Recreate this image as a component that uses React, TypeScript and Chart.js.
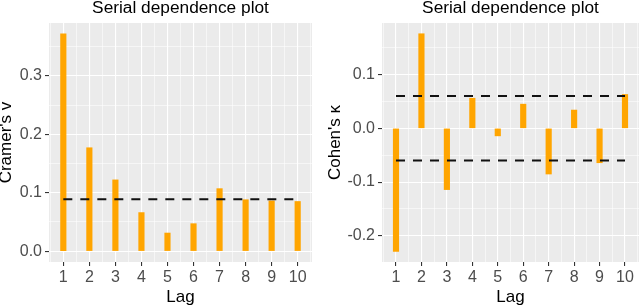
import React, { useEffect, useRef } from "react";
import { Chart, registerables } from "chart.js";

Chart.register(...registerables);

const lags = [1, 2, 3, 4, 5, 6, 7, 8, 9, 10];
const cramerV = [0.372, 0.177, 0.122, 0.066, 0.031, 0.047, 0.107, 0.088, 0.086, 0.085];
const cohenKappa = [-0.229, 0.176, -0.114, 0.056, -0.014, 0.045, -0.085, 0.034, -0.064, 0.063];
const cramerThreshold = [0.0887];
const kappaThresholds = [0.06, -0.06];
const xMajorTicks = [1, 2, 3, 4, 5, 6, 7, 8, 9, 10];
const leftYMajor = [0, 0.1, 0.2, 0.3];
const rightYMajor = [-0.2, -0.1, 0, 0.1];
const titleText = "Serial dependence plot";
const xTitle = "Lag";
const leftYTitle = "Cramer's v";
const rightYTitle = "Cohen's κ";

const FONT = "'Liberation Sans', Arial, sans-serif";

function minorsBetween(majors: number[], step: number, min: number, max: number) {
  const out: number[] = [];
  const first = majors[0] - step / 2;
  for (let v = first; v <= max + 1e-9; v += step) {
    if (v >= min - 1e-9) out.push(Number(v.toFixed(4)));
  }
  return out;
}

function isMajor(v: number, majors: number[]) {
  return majors.some((m) => Math.abs(m - v) < 1e-6);
}

const bgPlugin = {
  id: "panelBg",
  beforeDraw(chart: any) {
    const { ctx, chartArea } = chart;
    ctx.save();
    ctx.fillStyle = "#EBEBEB";
    ctx.fillRect(chartArea.left, chartArea.top, chartArea.right - chartArea.left, chartArea.bottom - chartArea.top);
    ctx.restore();
  },
};

function makeConfig(
  values: number[],
  thresholds: number[],
  yMajors: number[],
  yMin: number,
  yMax: number,
  yTitle: string,
  yAxisWidth: number,
  padRight: number,
  yTitlePad: number
) {
  const xMin = 0.45;
  const xMax = 10.55;
  const xTicks = [...xMajorTicks, ...xMajorTicks.map((v) => v - 0.5), 10.5].sort((a, b) => a - b);
  const yStep = yMajors[1] - yMajors[0];
  const yTicks = [...yMajors, ...minorsBetween(yMajors, yStep, yMin, yMax)].sort((a, b) => a - b);

  const datasets: any[] = [
    {
      type: "bar",
      data: lags.map((l, i) => ({ x: l, y: values[i] })),
      backgroundColor: "#FFA500",
      borderWidth: 0,
      barThickness: 5.5,
      order: 2,
    },
  ];
  thresholds.forEach((t) => {
    datasets.push({
      type: "line",
      data: [
        { x: lags[0], y: t },
        { x: lags[lags.length - 1], y: t },
      ],
      borderColor: "#111111",
      borderWidth: 2,
      borderDash: [9, 8],
      pointRadius: 0,
      fill: false,
      order: 1,
    });
  });

  return {
    type: "bar",
    data: { datasets },
    plugins: [bgPlugin],
    options: {
      animation: false,
      responsive: false,
      maintainAspectRatio: false,
      layout: { padding: { left: 0, right: padRight, top: 0, bottom: 0 } },
      plugins: {
        legend: { display: false },
        tooltip: { enabled: false },
        title: {
          display: true,
          text: titleText,
          fullSize: false,
          color: "#000000",
          font: { family: FONT, size: 17.3, weight: "normal", lineHeight: 1 },
          padding: { top: 0, bottom: 5.7 },
        },
      },
      scales: {
        x: {
          type: "linear",
          min: xMin,
          max: xMax,
          offset: false,
          bounds: "data",
          afterBuildTicks: (scale: any) => {
            scale.ticks = xTicks.map((v) => ({ value: v }));
          },
          afterFit: (scale: any) => {
            scale.height = 44;
          },
          border: { display: false },
          grid: {
            offset: false,
            color: "#FFFFFF",
            lineWidth: (ctx: any) => (ctx.tick && isMajor(ctx.tick.value, xMajorTicks) ? 1.1 : 0.55),
            tickColor: (ctx: any) => (ctx.tick && isMajor(ctx.tick.value, xMajorTicks) ? "#333333" : "rgba(0,0,0,0)"),
            tickWidth: 1.1,
            tickLength: 4,
          },
          ticks: {
            autoSkip: false,
            maxRotation: 0,
            padding: 1.5,
            color: "#4D4D4D",
            font: { family: FONT, size: 16 },
            callback: (v: any) => (isMajor(Number(v), xMajorTicks) ? String(Math.round(Number(v))) : ""),
          },
          title: {
            display: true,
            text: xTitle,
            color: "#000000",
            font: { family: FONT, size: 17, lineHeight: 1 },
            padding: { top: 0, bottom: 0.5 },
          },
        },
        y: {
          type: "linear",
          min: yMin,
          max: yMax,
          bounds: "data",
          afterBuildTicks: (scale: any) => {
            scale.ticks = yTicks.map((v) => ({ value: v }));
          },
          afterFit: (scale: any) => {
            scale.width = yAxisWidth;
          },
          border: { display: false },
          grid: {
            color: "#FFFFFF",
            lineWidth: (ctx: any) => (ctx.tick && isMajor(ctx.tick.value, yMajors) ? 1.1 : 0.55),
            tickColor: (ctx: any) => (ctx.tick && isMajor(ctx.tick.value, yMajors) ? "#333333" : "rgba(0,0,0,0)"),
            tickWidth: 1.1,
            tickLength: 4,
          },
          ticks: {
            autoSkip: false,
            padding: 3,
            color: "#4D4D4D",
            font: { family: FONT, size: 16 },
            callback: (v: any) => (isMajor(Number(v), yMajors) ? Number(v).toFixed(1) : ""),
          },
          title: {
            display: true,
            text: yTitle,
            color: "#000000",
            font: { family: FONT, size: 17, lineHeight: 0.8 },
            padding: { top: yTitlePad, bottom: 0 },
          },
        },
      },
    },
  };
}

function Panel(props: { config: any; left: number }) {
  const ref = useRef<HTMLCanvasElement | null>(null);
  useEffect(() => {
    if (!ref.current) return;
    const chart = new Chart(ref.current, props.config);
    return () => chart.destroy();
  }, []);
  return (
    <canvas
      ref={ref}
      width={320}
      height={306}
      style={{ position: "absolute", left: props.left, top: 0, width: 320, height: 306 }}
    />
  );
}

export default function App() {
  const leftConfig = makeConfig(cramerV, cramerThreshold, leftYMajor, -0.0186, 0.3906, leftYTitle, 49, 8, 0);
  const rightConfig = makeConfig(cohenKappa, kappaThresholds, rightYMajor, -0.2487, 0.196, rightYTitle, 62, 1, 8.4);
  return (
    <div style={{ position: "fixed", left: 0, top: 0, width: 640, height: 306, background: "#FFFFFF" }}>
      <Panel config={leftConfig} left={0} />
      <Panel config={rightConfig} left={320} />
    </div>
  );
}
